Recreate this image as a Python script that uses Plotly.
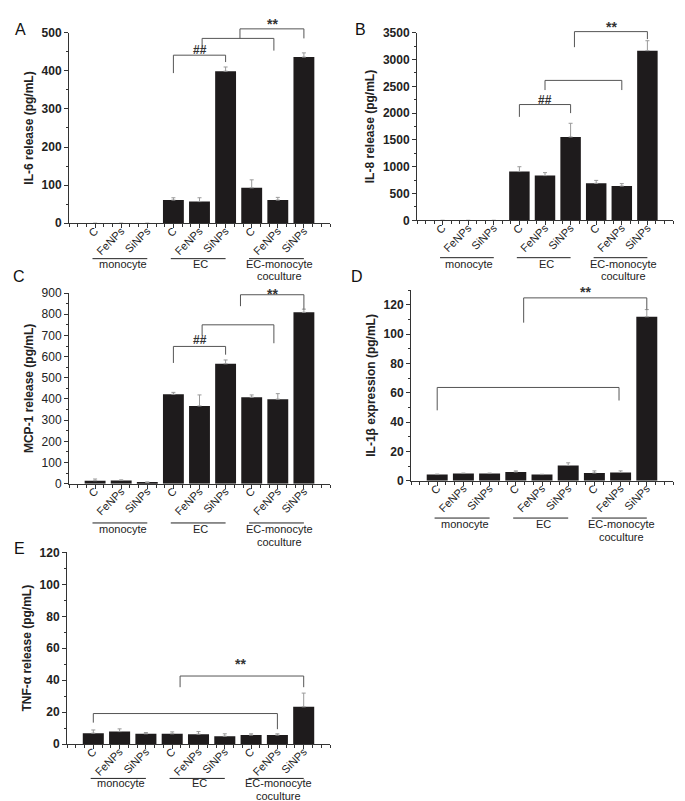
import plotly.graph_objects as go

W, H = 685, 801
FONT = "Liberation Sans, Arial, sans-serif"

# ---------------- data ----------------
categories = ["C", "FeNPs", "SiNPs", "C", "FeNPs", "SiNPs", "C", "FeNPs", "SiNPs"]
group_labels = ["monocyte", "EC", "EC-monocyte"]
group_label2 = ["", "", "coculture"]

il6 = [0, 0, 0, 61, 57, 399, 93, 61, 436]
il6_err = [0, 0, 0, 6, 10, 11, 21, 7, 11]

il8 = [0, 0, 0, 910, 835, 1555, 690, 640, 3165]
il8_err = [0, 0, 0, 90, 55, 255, 55, 45, 185]

mcp1 = [14, 15, 6, 422, 367, 566, 408, 399, 809]
mcp1_err = [8, 3, 2, 9, 52, 18, 11, 26, 15]

il1b = [4.2, 4.9, 4.9, 6.0, 4.2, 10.4, 5.3, 5.6, 111.8]
il1b_err = [0.3, 0.3, 0.3, 0.7, 0.2, 1.8, 1.4, 1.1, 4.9]

tnf = [6.8, 7.8, 6.4, 6.4, 6.2, 4.9, 5.6, 5.6, 23.3]
tnf_err = [2.0, 1.7, 0.8, 1.2, 1.6, 1.5, 0.8, 0.8, 8.6]

# brackets: (x_left, x_right, y_top, y_left_end, y_right_end)
brackets_A = [(3, 5, 441, 394, 423), (4.1, 6.85, 485, 461, 453), (5.55, 8, 510, 485, 485)]
signs_A = [("##", 4, 454), ("**", 6.8, 523)]
brackets_B = [(3, 5, 2160, 1930, 2000), (4, 7, 2610, 2430, 2430), (5.15, 8, 3520, 3230, 3380)]
signs_B = [("##", 4, 2250), ("**", 6.6, 3610)]
brackets_C = [(3, 5, 648, 570, 609), (4.1, 6.85, 750, 699, 663), (5.57, 8, 892, 838, 822)]
signs_C = [("##", 4, 676), ("**", 6.8, 896)]
brackets_D = [(0, 6.94, 63.6, 48, 54.7), (3.3, 8, 124.7, 107.8, 116.7)]
signs_D = [("**", 5.65, 128.6)]
brackets_E = [(0, 7, 19.1, 13.4, 9.3), (3.3, 8, 42.6, 35.6, 35.6)]
signs_E = [("**", 5.6, 50)]


def px_x(p):
    return p / W


def px_y(p):
    return 1 - p / H


panels = [
    dict(letter="A", vals=il6, err=il6_err, title="IL-6 release (pg/mL)", ymax=500, dtick=100, minor=50,
         bold=True, xd=(61, 322), yd=(18, 212), lpos=(12, 15), line=248, off=(5, 18),
         brackets=brackets_A, signs=signs_A),
    dict(letter="B", vals=il8, err=il8_err, title="IL-8 release (pg/mL)", ymax=3500, dtick=500, minor=250,
         bold=True, xd=(409, 665), yd=(18, 209), lpos=(352, 15), line=247, off=(6, 19),
         brackets=brackets_B, signs=signs_B),
    dict(letter="C", vals=mcp1, err=mcp1_err, title="MCP-1 release (pg/mL)", ymax=900, dtick=100, minor=50,
         bold=False, xd=(61, 322), yd=(283, 477), lpos=(11, 266), line=517, off=(6, 19),
         brackets=brackets_C, signs=signs_C),
    dict(letter="D", vals=il1b, err=il1b_err, title="IL-1β expression (pg/mL)", ymax=130, dtick=20, minor=10,
         bold=True, xd=(403, 665), yd=(280, 474), lpos=(349, 266), line=512, off=(6, 19),
         brackets=brackets_D, signs=signs_D),
    dict(letter="E", vals=tnf, err=tnf_err, title="TNF-α release (pg/mL)", ymax=120, dtick=20, minor=10,
         bold=True, xd=(59, 322), yd=(547, 742), lpos=(11, 543), line=777, off=(5, 18),
         brackets=brackets_E, signs=signs_E),
]

fig = go.Figure()
shapes = []
annotations = []
layout = {}

for i, p in enumerate(panels, start=1):
    sfx = "" if i == 1 else str(i)
    xa, ya = "x" + sfx, "y" + sfx
    fig.add_trace(go.Bar(
        x=list(range(9)), y=p["vals"], xaxis=xa, yaxis=ya,
        marker=dict(color="#1e1b1c", line=dict(width=0)), width=0.8,
        error_y=dict(type="data", symmetric=False, array=p["err"], arrayminus=[0] * 9,
                     color="#9a9a9a", thickness=1, width=2),
        showlegend=False, hoverinfo="skip"))
    tickfont = dict(family=FONT, size=12, color="#222")
    if p["bold"]:
        tickfont["weight"] = "bold"
    layout["xaxis" + sfx] = dict(
        domain=[px_x(p["xd"][0]), px_x(p["xd"][1])], anchor=ya, range=[-1, 9],
        tickmode="array", tickvals=list(range(9)), ticktext=categories, tickangle=-45,
        ticks="outside", ticklen=4, tickcolor="#333", tickwidth=1, ticklabelstandoff=-8,
        minor=dict(tickmode="linear", tick0=0, dtick=1 / 3, ticks="outside", ticklen=3,
                   tickcolor="#333", tickwidth=1),
        showline=True, linecolor="#333", linewidth=1, showgrid=False, zeroline=False,
        tickfont=dict(family=FONT, size=11, color="#222"), fixedrange=True)
    layout["yaxis" + sfx] = dict(
        domain=[px_y(p["yd"][1]), px_y(p["yd"][0])], anchor=xa, range=[0, p["ymax"]],
        tickmode="linear", tick0=0, dtick=p["dtick"],
        ticks="outside", ticklen=4, tickcolor="#333", tickwidth=1,
        minor=dict(tickmode="linear", tick0=0, dtick=p["minor"], ticks="outside", ticklen=2,
                   tickcolor="#333", tickwidth=1),
        showline=True, linecolor="#333", linewidth=1, showgrid=False, zeroline=False,
        tickfont=tickfont,
        title=dict(text=p["title"], font=dict(family=FONT, size=12, color="#222", weight="bold"),
                   standoff=5),
        fixedrange=True)

    ydom = ya + " domain"
    ymax = p["ymax"]
    bc = "#555"
    for (x0, x1, yt, yl, yr) in p["brackets"]:
        shapes.append(dict(type="line", xref=xa, yref=ydom, x0=x0, x1=x0, y0=yl / ymax, y1=yt / ymax,
                           line=dict(color=bc, width=1)))
        shapes.append(dict(type="line", xref=xa, yref=ydom, x0=x0, x1=x1, y0=yt / ymax, y1=yt / ymax,
                           line=dict(color=bc, width=1)))
        shapes.append(dict(type="line", xref=xa, yref=ydom, x0=x1, x1=x1, y0=yr / ymax, y1=yt / ymax,
                           line=dict(color=bc, width=1)))
    for (txt, xs, ys) in p["signs"]:
        fs = 12 if txt == "##" else 14
        annotations.append(dict(text=txt, xref=xa, yref=ydom, x=xs, y=ys / ymax, showarrow=False,
                                xanchor="center", yanchor="middle", borderpad=0,
                                font=dict(family=FONT, size=fs, color="#333", weight="bold")))
    # group underlines and labels
    o1, o2 = p["off"]
    for g in range(3):
        shapes.append(dict(type="line", xref=xa, yref="paper", x0=3 * g - 0.1, x1=3 * g + 2.0,
                           y0=px_y(p["line"]), y1=px_y(p["line"]), line=dict(color="#222", width=1)))
        annotations.append(dict(text=group_labels[g], xref=xa, yref="paper", x=3 * g + 1.05,
                                y=px_y(p["line"] + o1), showarrow=False, xanchor="center", yanchor="middle",
                                borderpad=0, font=dict(family=FONT, size=11, color="#222")))
        if group_label2[g]:
            annotations.append(dict(text=group_label2[g], xref=xa, yref="paper", x=3 * g + 1.05,
                                    y=px_y(p["line"] + o2), showarrow=False, xanchor="center",
                                    yanchor="middle", borderpad=0,
                                    font=dict(family=FONT, size=11, color="#222")))
    annotations.append(dict(text=p["letter"], xref="paper", yref="paper", x=px_x(p["lpos"][0]),
                            y=px_y(p["lpos"][1]), showarrow=False, xanchor="center", yanchor="middle",
                            font=dict(family=FONT, size=16, color="#111")))

fig.update_layout(
    width=W, height=H, margin=dict(l=0, r=0, t=0, b=0),
    paper_bgcolor="white", plot_bgcolor="white",
    font=dict(family=FONT, color="#222"),
    bargap=0.2, shapes=shapes, annotations=annotations, **layout)

fig.write_html("out.html", config={"displayModeBar": False})
